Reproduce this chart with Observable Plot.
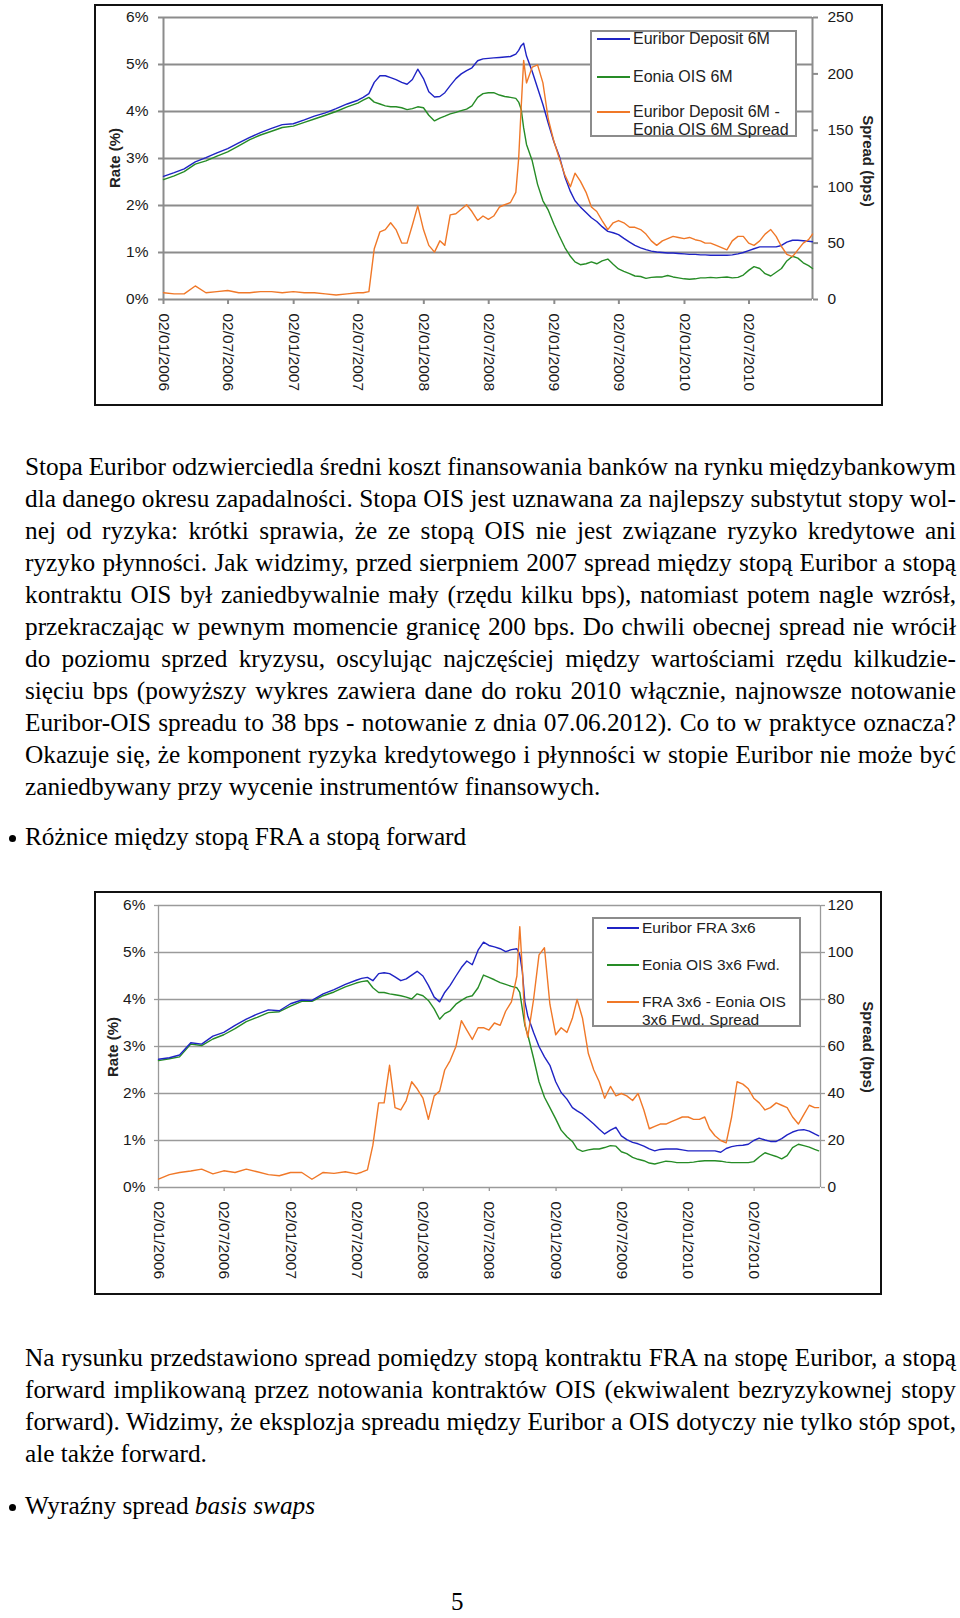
<!DOCTYPE html>
<html><head><meta charset="utf-8">
<script src="https://cdn.jsdelivr.net/npm/d3@7"></script>
<script src="https://cdn.jsdelivr.net/npm/@observablehq/plot@0.6"></script>
<style>
html,body{margin:0;padding:0;background:#fff;}
#page{position:relative;width:960px;height:1618px;overflow:hidden;background:#fff;}
.frame{position:absolute;border:2px solid #111;box-sizing:border-box;background:#fff;}
.frame svg{position:absolute;left:0;top:0;}
.ax{position:absolute;font:bold 15px "Liberation Sans",Arial,sans-serif;color:#222;white-space:nowrap;}
.legend{position:absolute;border:2px solid #8c8c8c;background:#fff;box-sizing:border-box;}
.lg-line{position:absolute;height:2px;}
.lg-text{position:absolute;font-family:"Liberation Sans",Arial,sans-serif;color:#222;white-space:nowrap;line-height:1;transform:translateY(-50%);}
.tx{position:absolute;left:25px;width:931px;font-family:"Liberation Serif","Times New Roman",serif;font-size:25.3px;line-height:32px;color:#000;word-spacing:-2.5px;}
.tx div{height:32px;text-align:justify;text-align-last:justify;}
.tx div.last{text-align:left;text-align-last:left;word-spacing:0;}
.pagenum{position:absolute;left:451px;top:1592px;font-family:"Liberation Serif","Times New Roman",serif;font-size:25px;line-height:20px;height:20px;color:#000;}
.bullet{position:absolute;width:7px;height:7px;border-radius:50%;background:#000;}
</style></head><body><div id="page">

<div class="frame" id="f1" style="left:94px;top:4px;width:789px;height:402px;"></div>
<div class="ax" style="left:114px;top:158px;transform:translate(-50%,-50%) rotate(-90deg);">Rate (%)</div>
<div class="ax" style="left:868px;top:161px;transform:translate(-50%,-50%) rotate(90deg);">Spread (bps)</div>
<div class="legend" style="left:590px;top:30px;width:207px;height:107px;"></div>
<div class="lg-line" style="left:597px;top:38px;width:33px;background:#1f23c4;"></div>
<div class="lg-line" style="left:597px;top:76px;width:33px;background:#268c26;"></div>
<div class="lg-line" style="left:597px;top:111px;width:33px;background:#f07828;"></div>
<div class="lg-text" style="left:633px;top:39px;font-size:16px;">Euribor Deposit 6M</div>
<div class="lg-text" style="left:633px;top:77px;font-size:16px;">Eonia OIS 6M</div>
<div class="lg-text" style="left:633px;top:112px;font-size:16px;">Euribor Deposit 6M -</div>
<div class="lg-text" style="left:633px;top:130px;font-size:16px;">Eonia OIS 6M Spread</div>

<div class="tx" style="top:450px;">
<div>Stopa Euribor odzwierciedla średni koszt finansowania banków na rynku międzybankowym</div>
<div>dla danego okresu zapadalności. Stopa OIS jest uznawana za najlepszy substytut stopy wol-</div>
<div>nej od ryzyka: krótki sprawia, że ze stopą OIS nie jest związane ryzyko kredytowe ani</div>
<div>ryzyko płynności. Jak widzimy, przed sierpniem 2007 spread między stopą Euribor a stopą</div>
<div>kontraktu OIS był zaniedbywalnie mały (rzędu kilku bps), natomiast potem nagle wzrósł,</div>
<div>przekraczając w pewnym momencie granicę 200 bps. Do chwili obecnej spread nie wrócił</div>
<div>do poziomu sprzed kryzysu, oscylując najczęściej między wartościami rzędu kilkudzie-</div>
<div>sięciu bps (powyższy wykres zawiera dane do roku 2010 włącznie, najnowsze notowanie</div>
<div>Euribor-OIS spreadu to 38 bps - notowanie z dnia 07.06.2012). Co to w praktyce oznacza?</div>
<div>Okazuje się, że komponent ryzyka kredytowego i płynności w stopie Euribor nie może być</div>
<div class="last">zaniedbywany przy wycenie instrumentów finansowych.</div>
</div>
<div class="bullet" style="left:9px;top:835px;"></div>
<div class="tx" style="top:820px;"><div class="last">Różnice między stopą FRA a stopą forward</div></div>

<div class="frame" id="f2" style="left:94px;top:891px;width:788px;height:404px;"></div>
<div class="ax" style="left:112px;top:1047px;transform:translate(-50%,-50%) rotate(-90deg);">Rate (%)</div>
<div class="ax" style="left:868px;top:1047px;transform:translate(-50%,-50%) rotate(90deg);">Spread (bps)</div>
<div class="legend" style="left:592px;top:917px;width:209px;height:110px;"></div>
<div class="lg-line" style="left:607px;top:927px;width:32px;background:#1f23c4;"></div>
<div class="lg-line" style="left:607px;top:964px;width:32px;background:#268c26;"></div>
<div class="lg-line" style="left:607px;top:1001px;width:32px;background:#f07828;"></div>
<div class="lg-text" style="left:642px;top:928px;font-size:15.5px;">Euribor FRA 3x6</div>
<div class="lg-text" style="left:642px;top:965px;font-size:15.5px;">Eonia OIS 3x6 Fwd.</div>
<div class="lg-text" style="left:642px;top:1002px;font-size:15.5px;">FRA 3x6 - Eonia OIS</div>
<div class="lg-text" style="left:642px;top:1020px;font-size:15.5px;">3x6 Fwd. Spread</div>

<div class="tx" style="top:1341px;">
<div>Na rysunku przedstawiono spread pomiędzy stopą kontraktu FRA na stopę Euribor, a stopą</div>
<div>forward implikowaną przez notowania kontraktów OIS (ekwiwalent bezryzykownej stopy</div>
<div>forward). Widzimy, że eksplozja spreadu między Euribor a OIS dotyczy nie tylko stóp spot,</div>
<div class="last">ale także forward.</div>
</div>
<div class="bullet" style="left:9px;top:1504px;"></div>
<div class="tx" style="top:1489px;"><div class="last">Wyraźny spread <i>basis swaps</i></div></div>
<div class="pagenum">5</div>
</div>

<script>
const dates = [
"2006-01-02","2006-02-01","2006-03-01","2006-04-01","2006-05-01","2006-06-01","2006-07-01","2006-08-01","2006-09-01","2006-10-01","2006-11-01","2006-12-01",
"2007-01-01","2007-02-01","2007-03-01","2007-04-01","2007-05-01","2007-06-01","2007-07-01","2007-07-16","2007-08-01","2007-08-16","2007-09-01","2007-09-16","2007-10-01","2007-10-16","2007-11-01","2007-11-16","2007-12-01","2007-12-16",
"2008-01-01","2008-01-16","2008-02-01","2008-02-16","2008-03-01","2008-03-16","2008-04-01","2008-04-16","2008-05-01","2008-05-16","2008-06-01","2008-06-16","2008-07-01","2008-07-16","2008-08-01","2008-08-16","2008-09-01","2008-09-16","2008-09-24","2008-10-01","2008-10-08","2008-10-16","2008-11-01","2008-11-16","2008-12-01","2008-12-16",
"2009-01-01","2009-01-16","2009-02-01","2009-02-16","2009-03-01","2009-03-16","2009-04-01","2009-04-16","2009-05-01","2009-05-16","2009-06-01","2009-06-16","2009-07-01","2009-07-16","2009-08-01","2009-08-16","2009-09-01","2009-09-16","2009-10-01","2009-10-16","2009-11-01","2009-11-16","2009-12-01","2009-12-16",
"2010-01-01","2010-01-16","2010-02-01","2010-02-16","2010-03-01","2010-03-16","2010-04-01","2010-04-16","2010-05-01","2010-05-16","2010-06-01","2010-06-16","2010-07-01","2010-07-16","2010-08-01","2010-08-16","2010-09-01","2010-09-16","2010-10-01","2010-10-16","2010-11-01","2010-11-16","2010-12-01","2010-12-16","2010-12-27"];

// Chart 1: Euribor Deposit 6M, Eonia OIS 6M (%), spread (bps)
const euribor6m = [2.62,2.70,2.78,2.93,3.02,3.12,3.21,3.33,3.45,3.55,3.64,3.72,
3.74,3.82,3.90,3.97,4.06,4.16,4.24,4.30,4.38,4.62,4.76,4.76,4.72,4.68,4.62,4.58,4.68,4.90,
4.70,4.42,4.31,4.32,4.40,4.55,4.70,4.80,4.87,4.93,5.08,5.12,5.13,5.14,5.15,5.16,5.17,5.22,5.30,5.40,5.45,5.18,4.85,4.50,4.15,3.75,
3.35,3.05,2.60,2.30,2.10,1.97,1.85,1.74,1.66,1.55,1.45,1.42,1.38,1.30,1.22,1.15,1.10,1.06,1.03,1.01,1.00,0.99,0.99,0.98,
0.97,0.96,0.96,0.95,0.95,0.94,0.94,0.94,0.94,0.95,0.97,1.00,1.04,1.08,1.12,1.12,1.12,1.12,1.15,1.22,1.26,1.26,1.25,1.24,1.23];
const eonia6m = [2.55,2.63,2.72,2.88,2.95,3.05,3.14,3.27,3.40,3.50,3.58,3.66,
3.69,3.77,3.84,3.92,4.00,4.10,4.18,4.24,4.30,4.20,4.16,4.12,4.10,4.10,4.08,4.04,4.06,4.10,
4.08,3.92,3.80,3.86,3.90,3.95,3.98,4.02,4.05,4.12,4.30,4.38,4.40,4.40,4.35,4.32,4.30,4.28,4.20,4.05,3.65,3.30,2.95,2.45,2.10,1.90,
1.60,1.35,1.10,0.92,0.80,0.74,0.76,0.80,0.76,0.82,0.86,0.75,0.65,0.60,0.55,0.50,0.49,0.45,0.47,0.48,0.48,0.51,0.48,0.46,
0.44,0.43,0.44,0.46,0.46,0.47,0.46,0.47,0.48,0.46,0.47,0.52,0.62,0.70,0.66,0.55,0.50,0.58,0.66,0.82,0.92,0.88,0.78,0.72,0.66];
const spread6m = [6,5,5,12,6,7,8,6,6,7,7,6,
7,6,6,5,4,5,6,6,7,45,60,62,68,62,50,50,66,83,
62,48,42,52,48,75,76,80,84,78,70,74,71,74,82,84,86,95,125,170,212,192,206,208,192,160,
140,125,110,100,112,105,95,82,78,70,62,68,70,68,64,64,62,58,52,48,52,54,56,55,
54,55,53,52,50,50,48,46,44,52,56,56,50,48,52,58,62,56,47,40,38,44,50,53,58];

// Chart 2: Euribor FRA 3x6, Eonia OIS 3x6 Fwd. (%), spread (bps)
const fra3x6 = [2.73,2.76,2.82,3.08,3.05,3.22,3.30,3.45,3.58,3.69,3.78,3.76,
3.91,3.99,3.98,4.12,4.21,4.32,4.41,4.45,4.47,4.40,4.55,4.57,4.55,4.48,4.40,4.44,4.52,4.60,
4.50,4.30,4.05,3.95,4.15,4.30,4.50,4.68,4.82,4.74,5.05,5.22,5.15,5.12,5.08,5.02,5.06,5.08,4.95,4.60,3.95,3.65,3.30,3.00,2.78,2.60,
2.25,2.02,1.88,1.70,1.63,1.56,1.45,1.35,1.24,1.14,1.22,1.28,1.10,1.02,0.96,0.93,0.88,0.82,0.78,0.81,0.82,0.82,0.82,0.80,
0.78,0.78,0.78,0.78,0.78,0.78,0.75,0.83,0.87,0.89,0.90,0.92,1.00,1.05,1.01,0.98,0.98,1.04,1.12,1.18,1.22,1.23,1.20,1.14,1.10];
const eoniaFwd3x6 = [2.70,2.74,2.78,3.05,3.02,3.16,3.25,3.38,3.53,3.62,3.72,3.74,
3.86,3.96,3.96,4.08,4.16,4.27,4.35,4.38,4.40,4.25,4.15,4.15,4.12,4.10,4.08,4.05,4.01,4.12,
4.08,3.98,3.80,3.58,3.70,3.76,3.90,3.98,4.05,4.08,4.25,4.52,4.47,4.42,4.36,4.32,4.28,4.25,4.15,3.80,3.45,3.25,2.75,2.25,1.92,1.70,
1.46,1.22,1.08,0.98,0.82,0.77,0.80,0.82,0.82,0.85,0.89,0.88,0.76,0.72,0.64,0.60,0.57,0.52,0.50,0.53,0.56,0.55,0.53,0.53,
0.53,0.54,0.56,0.57,0.57,0.57,0.56,0.54,0.53,0.53,0.53,0.53,0.55,0.65,0.74,0.70,0.66,0.61,0.68,0.85,0.92,0.89,0.86,0.81,0.78];
const spreadFwd3x6 = [3.6,5.5,6.4,7.0,7.8,5.8,7.1,6.4,7.8,6.7,5.5,5.0,
6.4,6.4,3.5,6.4,6.0,6.7,5.8,6.5,7.5,18,36,36,52,34,33,37,45,42,
38,29,39,41,50,54,60,71,67,63,68,68,67,70,69,75,79,90,111,93,70,64,80,99,102,78,
65,68,66,72,80,72,57,50,45,38,43,39,40,39,37,40,33,25,26,27,27,28,29,30,
30,29,29,30,25,22,20,19,30,45,44,42,38,36,33,34,36,35,34,30,27,31,35,34,34];

const rateTicks = [0,1,2,3,4,5,6];
const spreadTicks1 = [0,50,100,150,200,250];
const spreadTicks2 = [0,20,40,60,80,100,120];
const xTickLabels = ["2006-01-02","2006-07-02","2007-01-02","2007-07-02","2008-01-02","2008-07-02","2009-01-02","2009-07-02","2010-01-02","2010-07-02"];

const COLORS = {euribor: "#1f23c4", eonia: "#268c26", spread: "#f07828"};
const parse = d3.utcParse("%Y-%m-%d");
const fmt = d3.utcFormat("%d/%m/%Y");

function makeChart(o) {
  const k = 6 / o.spreadMax;
  const rows = dates.map((d, i) => ({date: parse(d), a: o.a[i], b: o.b[i], s: o.s[i] * k}));
  const xs = o.xDomain.map(parse);
  const fs = 15.5;
  return Plot.plot({
    width: o.width, height: o.height,
    marginLeft: o.ml, marginRight: o.mr, marginTop: o.mt, marginBottom: o.mb,
    x: {type: "utc", domain: xs},
    y: {domain: [0, 6]},
    style: {fontFamily: '"Liberation Sans", Arial, sans-serif', fontSize: "15.5px", color: "#1a1a1a", background: "transparent", overflow: "visible"},
    marks: [
      Plot.ruleY(rateTicks, {stroke: o.grid, strokeWidth: o.gridW}),
      Plot.ruleX(xs, {stroke: o.grid, strokeWidth: o.gridW}),
      Plot.axisY({anchor: "left", ticks: rateTicks, tickFormat: d => d + "%", tickSize: o.ts, tickPadding: o.lp, stroke: o.grid, strokeWidth: o.gridW, fontSize: fs, label: null}),
      Plot.axisY({anchor: "right", ticks: o.spreadTicks.map(v => v * k), tickFormat: d => String(Math.round(d / k)), tickSize: o.ts, tickPadding: o.rp, stroke: o.grid, strokeWidth: o.gridW, fontSize: fs, label: null}),
      Plot.axisX({ticks: xTickLabels.map(parse), tickFormat: fmt, tickRotate: 90, tickSize: o.ts, tickPadding: o.bp, stroke: o.grid, strokeWidth: o.gridW, fontSize: fs, label: null}),
      Plot.line(rows, {x: "date", y: "b", stroke: COLORS.eonia, strokeWidth: 1.4}),
      Plot.line(rows, {x: "date", y: "a", stroke: COLORS.euribor, strokeWidth: 1.4}),
      Plot.line(rows, {x: "date", y: "s", stroke: COLORS.spread, strokeWidth: 1.4})
    ]
  });
}

document.getElementById("f1").appendChild(makeChart({
  a: euribor6m, b: eonia6m, s: spread6m, spreadMax: 250, spreadTicks: spreadTicks1,
  xDomain: ["2006-01-02", "2010-12-27"],
  width: 785, height: 398, ml: 67, mr: 69, mt: 11, mb: 105,
  grid: "#8c8c8c", gridW: 2, ts: 5, lp: 10, rp: 10, bp: 9
}));
document.getElementById("f2").appendChild(makeChart({
  a: fra3x6, b: eoniaFwd3x6, s: spreadFwd3x6, spreadMax: 120, spreadTicks: spreadTicks2,
  xDomain: ["2006-01-02", "2011-01-01"],
  width: 784, height: 400, ml: 62, mr: 60, mt: 12, mb: 106,
  grid: "#9a9a9a", gridW: 1.3, ts: 4, lp: 9, rp: 3, bp: 10
}));
</script>
</body></html>
